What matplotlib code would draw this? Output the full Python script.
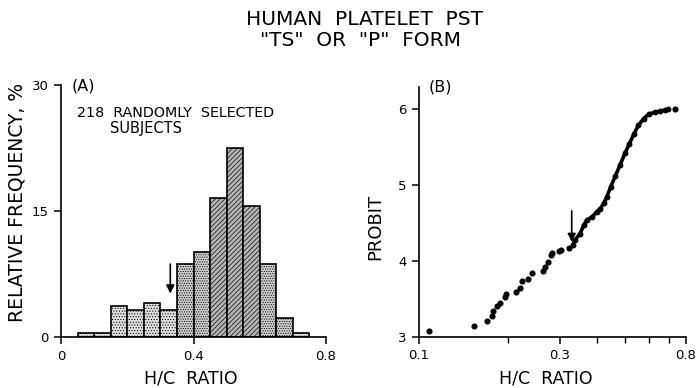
import matplotlib
matplotlib.use("Agg")
import matplotlib.pyplot as plt
from matplotlib.ticker import FixedLocator, NullFormatter, FixedFormatter

# ---------------- data ----------------
# Panel A: histogram of H/C ratio (relative frequency, %), 218 subjects
bin_left = [0.05, 0.10, 0.15, 0.20, 0.25, 0.30, 0.35, 0.40, 0.45, 0.50, 0.55, 0.60, 0.65, 0.70]
bin_width = 0.05
rel_freq = [0.46, 0.46, 3.67, 3.21, 4.13, 3.21, 8.72, 10.09, 16.51, 22.48, 15.60, 8.72, 2.29, 0.46]
arrow_a_x = 0.33

# Panel B: probit plot (isolated points and the dense run of points)
sparse_x = [0.108, 0.154, 0.170, 0.176, 0.178, 0.184, 0.188, 0.195, 0.197, 0.213, 0.219,
            0.223, 0.234, 0.241, 0.262, 0.267, 0.274, 0.279, 0.283, 0.297, 0.302, 0.323, 0.737]
sparse_y = [3.08, 3.14, 3.21, 3.27, 3.34, 3.40, 3.45, 3.52, 3.56, 3.59, 3.64,
            3.73, 3.76, 3.84, 3.87, 3.92, 3.99, 4.08, 4.11, 4.13, 4.15, 4.17, 6.00]
run_x = [0.331, 0.338, 0.351, 0.361, 0.370, 0.385, 0.400, 0.411, 0.422, 0.433, 0.446, 0.462,
         0.480, 0.498, 0.516, 0.535, 0.553, 0.577, 0.600, 0.628, 0.656, 0.682, 0.695]
run_y = [4.21, 4.28, 4.36, 4.47, 4.54, 4.58, 4.65, 4.69, 4.76, 4.85, 4.98, 5.12,
         5.27, 5.42, 5.55, 5.68, 5.79, 5.88, 5.94, 5.96, 5.98, 5.99, 6.00]
arrow_b_x = 0.329

a_xticks = [0, 0.4, 0.8]
a_xticklabels = ["0", "0.4", "0.8"]
a_yticks = [0, 15, 30]
b_xticks = [0.1, 0.3, 0.8]
b_xticklabels = ["0.1", "0.3", "0.8"]
b_xminor = [0.2, 0.4, 0.5, 0.6, 0.7]
b_yticks = [3, 4, 5, 6]

# ---------------- figure ----------------
W, H = 698, 388
plt.rcParams["font.family"] = ["DejaVu Sans"]
plt.rcParams["hatch.linewidth"] = 0.45
fig = plt.figure(figsize=(W / 100, H / 100), dpi=100)

def fx(px):
    return px / W

def fy(py):
    return 1 - py / H

spine_lw = 1.2

# ---- Panel A ----
axA = fig.add_axes([fx(61), fy(337.3), fx(326) - fx(61), fy(85) - fy(337.3)])
for l, h in zip(bin_left, rel_freq):
    if 0.45 <= l < 0.60:
        fc, hatch = "#b4b4b4", "///////"
    elif 0.35 <= l < 0.45 or 0.60 <= l < 0.70:
        fc, hatch = "#cbcbcb", "......."
    else:
        fc, hatch = "#dedede", "......"
    axA.bar(l, h, width=bin_width, align="edge", facecolor=fc, edgecolor="black",
            hatch=hatch, linewidth=1.2)
axA.set_xlim(0, 0.8)
axA.set_ylim(0, 30)
axA.spines["top"].set_visible(False)
axA.spines["right"].set_visible(False)
for s in ("left", "bottom"):
    axA.spines[s].set_linewidth(spine_lw)
axA.set_xticks(a_xticks)
axA.set_xticklabels(a_xticklabels)
axA.set_yticks(a_yticks)
axA.tick_params(axis="both", direction="out", length=5, width=1.1, labelsize=9.5, pad=4)
axA.annotate("", xy=(arrow_a_x, 5.2), xytext=(arrow_a_x, 8.7),
             arrowprops=dict(arrowstyle="-|>", color="black", lw=1.2,
                             mutation_scale=12, shrinkA=0, shrinkB=0))

# ---- Panel B ----
axB = fig.add_axes([fx(419), fy(336.7), fx(685.7) - fx(419), fy(86.7) - fy(336.7)])
axB.set_xscale("log")
axB.plot(run_x, run_y, "-", color="black", lw=2.6, solid_capstyle="round",
         solid_joinstyle="round")
axB.plot(run_x, run_y, "o", color="black", ms=3.2)
axB.plot(sparse_x, sparse_y, "o", color="black", ms=3.4)
axB.set_xlim(0.1, 0.8)
axB.set_ylim(3, 6.3)
axB.spines["top"].set_visible(False)
axB.spines["right"].set_visible(False)
for s in ("left", "bottom"):
    axB.spines[s].set_linewidth(spine_lw)
axB.xaxis.set_major_locator(FixedLocator(b_xticks))
axB.xaxis.set_major_formatter(FixedFormatter(b_xticklabels))
axB.xaxis.set_minor_locator(FixedLocator(b_xminor))
axB.xaxis.set_minor_formatter(NullFormatter())
axB.set_yticks(b_yticks)
axB.tick_params(axis="both", which="major", direction="out", length=5, width=1.1,
                labelsize=9.5, pad=4)
axB.tick_params(axis="x", which="minor", direction="out", length=4, width=1.0)
axB.annotate("", xy=(arrow_b_x, 4.25), xytext=(arrow_b_x, 4.66),
             arrowprops=dict(arrowstyle="-|>", color="black", lw=1.2,
                             mutation_scale=12, shrinkA=0, shrinkB=0))

# ---- texts ----
fig.text(fx(365), fy(19.5), "HUMAN  PLATELET  PST", ha="center", va="center", fontsize=14.5)
fig.text(fx(360), fy(41), '"TS"  OR  "P"  FORM', ha="center", va="center", fontsize=14.5)
fig.text(fx(72), fy(86), "(A)", ha="left", va="center", fontsize=11.5)
fig.text(fx(429), fy(87), "(B)", ha="left", va="center", fontsize=11.5)
fig.text(fx(77), fy(113), "218  RANDOMLY  SELECTED", ha="left", va="center", fontsize=10.3)
fig.text(fx(110), fy(128), "SUBJECTS", ha="left", va="center", fontsize=10.5)
fig.text(fx(191), fy(378.5), "H/C  RATIO", ha="center", va="center", fontsize=12.5)
fig.text(fx(546), fy(378.5), "H/C  RATIO", ha="center", va="center", fontsize=12.5)
fig.text(fx(17.5), fy(202), "RELATIVE FREQUENCY, %", ha="center", va="center",
         rotation=90, fontsize=13.5)
fig.text(fx(375), fy(226.5), "PROBIT", ha="center", va="center", rotation=90, fontsize=13)

fig.savefig("out.png", dpi=100)
